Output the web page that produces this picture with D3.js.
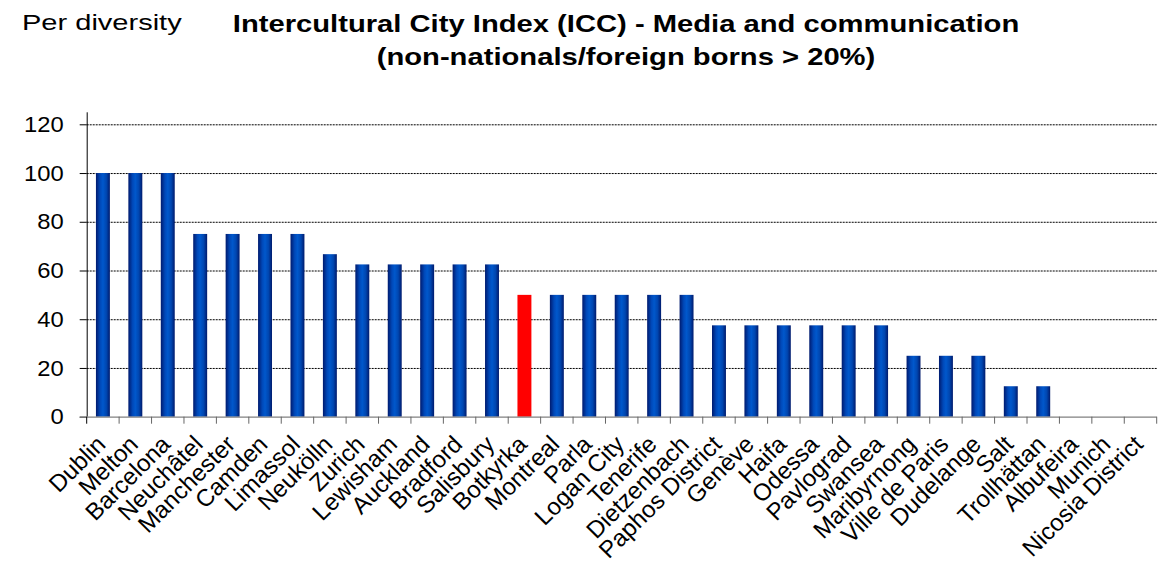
<!DOCTYPE html>
<html>
<head>
<meta charset="utf-8">
<script src="https://cdn.jsdelivr.net/npm/d3@7"></script>
<style>
  html, body { margin: 0; padding: 0; background: #fff; }
  svg { display: block; font-family: "Liberation Sans", Arial, sans-serif; }
</style>
</head>
<body>
<svg id="chart" width="1160" height="585"></svg>
<script>
// City names along the x axis
const cities = [
  "Dublin", "Melton", "Barcelona", "Neuchâtel", "Manchester", "Camden", "Limassol",
  "Neukölln", "Zurich", "Lewisham", "Auckland", "Bradford", "Salisbury", "Botkyrka",
  "Montreal", "Parla", "Logan City", "Tenerife", "Dietzenbach", "Paphos District",
  "Genève", "Haifa", "Odessa", "Pavlograd", "Swansea", "Maribyrnong", "Ville de Paris",
  "Dudelange", "Salt", "Trollhättan", "Albufeira", "Munich", "Nicosia District"
];
// Media and communication index score per city
const scores = [
  100, 100, 100, 75, 75, 75, 75,
  66.7, 62.5, 62.5, 62.5, 62.5, 62.5, 50,
  50, 50, 50, 50, 50, 37.5,
  37.5, 37.5, 37.5, 37.5, 37.5, 25, 25,
  25, 12.5, 12.5, 0, 0, 0
];
// City shown in red
const highlighted = ["Botkyrka"];
const yTicks = [0, 20, 40, 60, 80, 100, 120];

const data = cities.map((c, i) => ({ city: c, value: scores[i] }));

const svg = d3.select("#chart");
const plotLeft = 86.7, plotRight = 1156.7, plotTop = 124.3, plotBottom = 416.7;

const x = d3.scaleBand().domain(cities).range([plotLeft, plotRight]).paddingInner(0.57).paddingOuter(0.285);
const y = d3.scaleLinear().domain([0, 120]).range([plotBottom, plotTop]);

// Bar gradient: dark edges, bright blue core
const defs = svg.append("defs");
const grad = defs.append("linearGradient").attr("id", "barGrad")
  .attr("x1", "0%").attr("x2", "100%").attr("y1", "0%").attr("y2", "0%");
[["0%", "#001a6e"], ["30%", "#0048b8"], ["50%", "#0058cc"], ["75%", "#0046b0"], ["100%", "#001a6c"]]
  .forEach(([o, c]) => grad.append("stop").attr("offset", o).attr("stop-color", c));

// Horizontal gridlines
svg.append("g")
  .selectAll("line")
  .data(yTicks.filter(t => t > 0))
  .join("line")
  .attr("x1", plotLeft).attr("x2", plotRight)
  .attr("y1", d => y(d) + 0.5).attr("y2", d => y(d) + 0.5)
  .attr("stroke", "#000").attr("stroke-width", 1)
  .attr("stroke-dasharray", "2,1");

// Bars
svg.append("g")
  .selectAll("rect")
  .data(data.filter(d => d.value > 0))
  .join("rect")
  .attr("x", d => x(d.city))
  .attr("width", x.bandwidth())
  .attr("y", d => y(d.value))
  .attr("height", d => y(0) - y(d.value))
  .attr("fill", d => highlighted.includes(d.city) ? "#ff0000" : "url(#barGrad)");

// Y axis
const yAxis = svg.append("g")
  .attr("transform", `translate(${plotLeft},0)`)
  .call(d3.axisLeft(y).tickValues(yTicks).tickSize(7).tickPadding(16));
yAxis.select(".domain").attr("stroke", "#000").attr("d", `M0.5,${plotTop - 12}V${plotBottom}`);
yAxis.selectAll(".tick line").attr("stroke", "#000");
yAxis.selectAll(".tick text")
  .attr("font-size", 22).attr("fill", "#000")
  .attr("font-family", "Liberation Sans, Arial, sans-serif")
  .attr("transform", "scale(1.08,1)")
  .attr("x", -23 / 1.08);

// X axis with tick marks at category boundaries
const xg = svg.append("g").attr("transform", `translate(0,${plotBottom})`);
xg.append("line").attr("x1", plotLeft - 7).attr("x2", plotRight)
  .attr("y1", 0.5).attr("y2", 0.5).attr("stroke", "#808080").attr("stroke-width", 1.2);
const step = x.step();
xg.selectAll("line.tk")
  .data(d3.range(cities.length + 1))
  .join("line").attr("class", "tk")
  .attr("x1", i => plotLeft + i * step).attr("x2", i => plotLeft + i * step)
  .attr("y1", 0).attr("y2", 7)
  .attr("stroke", i => i === 0 ? "#000" : "#666").attr("stroke-width", 1);

// Rotated category labels
xg.selectAll("text")
  .data(cities)
  .join("text")
  .attr("text-anchor", "end")
  .attr("font-size", 24)
  .attr("fill", "#000")
  .attr("transform", d => `translate(${x(d) + x.bandwidth() / 2 + 4},${29}) rotate(-45)`)
  .text(d => d);

// Titles (set in a horizontally widened face)
svg.append("text")
  .attr("transform", "translate(22,30) scale(1.32,1)")
  .attr("font-size", 22).attr("fill", "#000").text("Per diversity");
svg.append("text")
  .attr("transform", "translate(626,32) scale(1.27,1)")
  .attr("text-anchor", "middle")
  .attr("font-size", 23).attr("font-weight", "bold").attr("fill", "#000")
  .text("Intercultural City Index (ICC) - Media and communication");
svg.append("text")
  .attr("transform", "translate(626,65) scale(1.27,1)")
  .attr("text-anchor", "middle")
  .attr("font-size", 23).attr("font-weight", "bold").attr("fill", "#000")
  .text("(non-nationals/foreign borns > 20%)");
</script>
</body>
</html>
